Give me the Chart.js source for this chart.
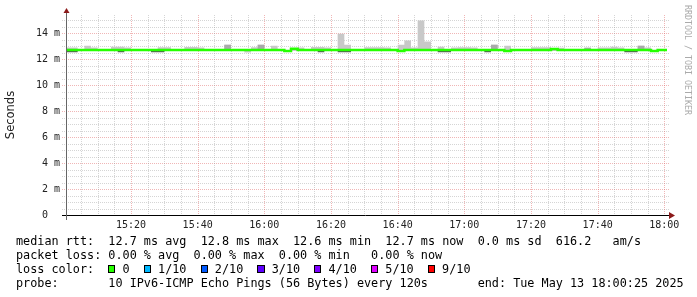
<!DOCTYPE html>
<html>
<head>
<meta charset="utf-8">
<script src="https://cdn.jsdelivr.net/npm/chart.js@4/dist/chart.umd.min.js"></script>
<style>
  body { margin: 0; background: #fff; }
  #wrap { position: relative; width: 697px; height: 297px; overflow: hidden; background: #fff; }
  #chart { position: absolute; left: 0; top: 0; }
  #legend { position: absolute; left: 16px; top: 234px; margin: 0; font: 11.8px/14px 'DejaVu Sans Mono', monospace; color: #000; white-space: pre; }
  .sq { display: inline-block; width: 1ch; height: 8px; box-sizing: border-box; border: 1px solid #000; vertical-align: baseline; }
  #credit { position: absolute; left: 683px; top: 5px; writing-mode: vertical-rl; font: 8.3px 'DejaVu Sans Mono', monospace; color: #aaa; white-space: pre; }
</style>
</head>
<body>
<div id="wrap">
  <canvas id="chart" width="697" height="297"></canvas>
  <div id="credit">RRDTOOL / TOBI OETIKER</div>
  <pre id="legend"></pre>
</div>
<script>
// x values are minutes after 15:00, one step every 120 s
const stepMinutes = 2;
const timeLabels = ['15:20', '15:40', '16:00', '16:20', '16:40', '17:00', '17:20', '17:40', '18:00'];
const yTicks = [0, 2, 4, 6, 8, 10, 12, 14];

// median rtt per step (ms)
const medianRtt = [
  12.70, 12.70, 12.70, 12.70, 12.70, 12.70, 12.70, 12.70, 12.70, 12.70,
  12.70, 12.70, 12.70, 12.70, 12.70, 12.70, 12.70, 12.70, 12.70, 12.70,
  12.70, 12.70, 12.70, 12.70, 12.70, 12.70, 12.70, 12.70, 12.70, 12.70,
  12.70, 12.70, 12.70, 12.63, 12.80, 12.70, 12.70, 12.70, 12.70, 12.70,
  12.70, 12.70, 12.70, 12.70, 12.70, 12.70, 12.70, 12.70, 12.70, 12.70,
  12.62, 12.70, 12.70, 12.70, 12.70, 12.70, 12.70, 12.70, 12.70, 12.70,
  12.70, 12.70, 12.70, 12.70, 12.70, 12.70, 12.62, 12.70, 12.70, 12.70,
  12.70, 12.70, 12.70, 12.78, 12.70, 12.70, 12.70, 12.70, 12.70, 12.70,
  12.70, 12.70, 12.70, 12.70, 12.70, 12.70, 12.70, 12.70, 12.62, 12.70,
  12.70
];

// outer smoke (light grey), top and bottom per step (ms)
const smokeTop = [
  12.89, 12.89, 12.70, 13.03, 12.89, 12.70, 12.70, 12.96, 12.96, 12.89,
  12.70, 12.70, 12.70, 12.70, 12.92, 12.92, 12.70, 12.70, 12.94, 12.94,
  12.89, 12.70, 12.70, 12.70, 13.10, 12.70, 12.70, 12.70, 12.92, 13.10,
  12.70, 13.03, 12.70, 12.70, 12.80, 12.89, 12.70, 12.94, 12.94, 12.89,
  12.70, 13.96, 13.10, 12.70, 12.70, 12.92, 12.92, 12.92, 12.89, 12.70,
  13.10, 13.43, 12.90, 14.97, 13.36, 12.70, 12.96, 12.70, 12.90, 12.92,
  12.92, 12.89, 12.70, 12.70, 13.10, 12.70, 13.03, 12.70, 12.70, 12.70,
  12.92, 12.92, 12.92, 12.78, 12.88, 12.70, 12.70, 12.70, 12.88, 12.70,
  12.90, 12.90, 12.95, 12.90, 12.70, 12.70, 13.03, 12.89, 12.70, 12.70,
  12.70
];
const smokeBottom = [
  12.62, 12.62, 12.62, 12.62, 12.62, 12.62, 12.62, 12.62, 12.62, 12.62,
  12.62, 12.62, 12.62, 12.62, 12.62, 12.62, 12.62, 12.62, 12.62, 12.62,
  12.62, 12.62, 12.62, 12.62, 12.62, 12.62, 12.62, 12.52, 12.62, 12.62,
  12.62, 12.62, 12.62, 12.62, 12.62, 12.62, 12.62, 12.62, 12.62, 12.62,
  12.62, 12.62, 12.62, 12.62, 12.62, 12.62, 12.62, 12.62, 12.62, 12.62,
  12.62, 12.62, 12.62, 12.62, 12.62, 12.62, 12.62, 12.62, 12.62, 12.62,
  12.62, 12.62, 12.62, 12.62, 12.62, 12.62, 12.62, 12.62, 12.62, 12.62,
  12.62, 12.62, 12.62, 12.62, 12.62, 12.62, 12.62, 12.62, 12.62, 12.62,
  12.62, 12.62, 12.62, 12.62, 12.62, 12.62, 12.62, 12.62, 12.62, 12.62,
  12.62
];

// middle smoke (darker grey) above the median, 12.70 = none
const midTop = [
  12.70, 12.70, 12.70, 12.70, 12.70, 12.70, 12.70, 12.70, 12.70, 12.70,
  12.70, 12.70, 12.70, 12.70, 12.70, 12.70, 12.70, 12.70, 12.70, 12.70,
  12.70, 12.70, 12.70, 12.70, 13.10, 12.70, 12.70, 12.70, 12.70, 13.10,
  12.70, 12.70, 12.70, 12.70, 12.70, 12.70, 12.70, 12.70, 12.70, 12.70,
  12.70, 12.70, 12.70, 12.70, 12.70, 12.70, 12.70, 12.70, 12.70, 12.70,
  12.70, 12.70, 12.70, 12.70, 12.70, 12.70, 12.70, 12.70, 12.70, 12.70,
  12.70, 12.70, 12.70, 12.70, 13.10, 12.70, 12.70, 12.70, 12.70, 12.70,
  12.70, 12.70, 12.70, 12.70, 12.70, 12.70, 12.70, 12.70, 12.88, 12.70,
  12.70, 12.70, 12.70, 12.70, 12.70, 12.70, 13.03, 12.70, 12.70, 12.70,
  12.70
];

// core smoke (dark) just under the median, 12.70 = none
const coreBottom = [
  12.53, 12.53, 12.70, 12.70, 12.70, 12.70, 12.70, 12.70, 12.53, 12.70,
  12.70, 12.70, 12.70, 12.53, 12.53, 12.70, 12.70, 12.70, 12.70, 12.70,
  12.70, 12.70, 12.70, 12.70, 12.70, 12.70, 12.70, 12.70, 12.70, 12.70,
  12.70, 12.70, 12.70, 12.70, 12.70, 12.70, 12.70, 12.70, 12.53, 12.70,
  12.70, 12.53, 12.53, 12.70, 12.70, 12.70, 12.70, 12.70, 12.70, 12.70,
  12.70, 12.70, 12.70, 12.70, 12.70, 12.70, 12.53, 12.53, 12.70, 12.70,
  12.70, 12.70, 12.70, 12.53, 12.70, 12.70, 12.70, 12.70, 12.70, 12.70,
  12.70, 12.70, 12.70, 12.70, 12.70, 12.70, 12.70, 12.70, 12.70, 12.70,
  12.70, 12.70, 12.70, 12.70, 12.53, 12.53, 12.70, 12.70, 12.70, 12.70,
  12.70
];
const innerEdge = 12.70;

const lossLabels = ['0', '1/10', '2/10', '3/10', '4/10', '5/10', '9/10'];
const lossColors = ['#26ff00', '#00b8ff', '#0059ff', '#5e00ff', '#7e00ff', '#dd00ff', '#ff0000'];

// legend text under the graph
const legendLines = [
  'median rtt:  12.7 ms avg  12.8 ms max  12.6 ms min  12.7 ms now  0.0 ms sd  616.2   am/s',
  'packet loss: 0.00 % avg  0.00 % max  0.00 % min   0.00 % now',
  null,
  'probe:       10 IPv6-ICMP Echo Pings (56 Bytes) every 120s       end: Tue May 13 18:00:25 2025'
];
const legendEl = document.getElementById('legend');
legendEl.innerHTML = legendLines.map(line => {
  if (line !== null) return line;
  let s = 'loss color:  ';
  lossLabels.forEach((lab, i) => {
    s += `<span class="sq" style="background:${lossColors[i]}"></span> ${lab}` + (i < lossLabels.length - 1 ? '  ' : '');
  });
  return s;
}).join('\n');

// step series -> points, with an extra point closing the last step
function toPoints(arr) {
  const pts = arr.map((v, k) => ({ x: k * stepMinutes, y: v }));
  pts.push({ x: arr.length * stepMinutes, y: arr[arr.length - 1] });
  return pts;
}
function stepLine(points, extra) {
  return Object.assign({
    data: points, stepped: 'before', pointRadius: 0, borderWidth: 0,
    borderColor: 'transparent', fill: false
  }, extra);
}
const flat = arr => toPoints(arr).map(p => ({ x: p.x, y: innerEdge }));

// dotted rrd style grid under the data
const rrdGrid = {
  id: 'rrdGrid',
  beforeDatasetsDraw(chart) {
    const { ctx, chartArea: a, scales: { x, y } } = chart;
    ctx.save();
    ctx.lineWidth = 1;
    ctx.setLineDash([1, 1]);
    const minor = 'rgba(150,150,150,0.4)';
    const major = 'rgba(225,110,110,0.5)';
    for (let i = 1; i * 0.5 <= y.max; i++) {
      const v = i * 0.5;
      const py = Math.round(y.getPixelForValue(v)) + 0.5;
      ctx.strokeStyle = (i % 4 === 0) ? major : minor;
      ctx.beginPath();
      ctx.moveTo(a.left - 5, py);
      ctx.lineTo(a.right + 2, py);
      ctx.stroke();
    }
    for (let m = 5; m <= x.max; m += 5) {
      const px = Math.round(x.getPixelForValue(m)) + 0.5;
      ctx.strokeStyle = (m % 20 === 0) ? major : minor;
      ctx.beginPath();
      ctx.moveTo(px, a.top);
      ctx.lineTo(px, a.bottom);
      ctx.stroke();
    }
    ctx.restore();
  },
  afterDatasetsDraw(chart) {
    const { ctx, chartArea: a } = chart;
    ctx.save();
    ctx.setLineDash([]);
    ctx.lineWidth = 1;
    ctx.strokeStyle = '#000';
    ctx.beginPath();
    ctx.moveTo(a.left - 5, a.bottom + 0.5);
    ctx.lineTo(a.right + 2, a.bottom + 0.5);
    ctx.stroke();
    ctx.strokeStyle = '#666';
    ctx.beginPath();
    ctx.moveTo(a.left - 0.5, a.top - 3);
    ctx.lineTo(a.left - 0.5, a.bottom + 5);
    ctx.stroke();
    // arrows
    ctx.fillStyle = '#8b1a1a';
    ctx.beginPath();
    ctx.moveTo(a.right + 2, a.bottom - 3);
    ctx.lineTo(a.right + 2, a.bottom + 4);
    ctx.lineTo(a.right + 8, a.bottom + 0.5);
    ctx.closePath();
    ctx.fill();
    ctx.beginPath();
    ctx.moveTo(a.left - 3.5, a.top - 2);
    ctx.lineTo(a.left + 2.5, a.top - 2);
    ctx.lineTo(a.left - 0.5, a.top - 7);
    ctx.closePath();
    ctx.fill();
    ctx.restore();
  }
};

const tickFont = { family: 'DejaVu Sans Mono', size: 10 };

new Chart(document.getElementById('chart'), {
  type: 'line',
  data: {
    datasets: [
      stepLine(toPoints(medianRtt), { borderColor: '#26ff00', borderWidth: 2.5, borderCapStyle: 'butt', borderJoinStyle: 'miter' }),
      stepLine(flat(coreBottom), { fill: '+1', backgroundColor: '#555555' }),
      stepLine(toPoints(coreBottom)),
      stepLine(toPoints(midTop), { fill: '+1', backgroundColor: '#aaaaaa' }),
      stepLine(flat(midTop)),
      stepLine(toPoints(smokeTop), { fill: '+1', backgroundColor: '#c8c8c8' }),
      stepLine(toPoints(smokeBottom))
    ]
  },
  options: {
    responsive: false,
    animation: false,
    layout: { padding: { top: 15, right: 30, bottom: 0, left: 0 } },
    plugins: { legend: { display: false }, tooltip: { enabled: false } },
    scales: {
      x: {
        type: 'linear',
        min: 0.8,
        max: 180.8,
        grid: { display: false, drawTicks: false },
        border: { display: false },
        afterBuildTicks: scale => { scale.ticks = timeLabels.map((t, i) => ({ value: 20 * (i + 1) })); },
        afterFit: scale => { scale.height = 82; },
        ticks: {
          autoSkip: false, maxRotation: 0, padding: 4, color: '#222', font: tickFont,
          callback: (value, index) => timeLabels[index]
        }
      },
      y: {
        min: 0,
        max: 15.4,
        grid: { display: false, drawTicks: false },
        border: { display: false },
        afterBuildTicks: scale => { scale.ticks = yTicks.map(v => ({ value: v })); },
        afterFit: scale => { scale.width = 67; },
        ticks: {
          padding: 7, color: '#222', font: tickFont,
          callback: v => (v === 0 ? '0  ' : v + ' m')
        },
        title: {
          display: true, text: 'Seconds', color: '#222',
          font: { family: 'DejaVu Sans', size: 11.5 },
          padding: { top: 4, bottom: 0 }
        }
      }
    }
  },
  plugins: [rrdGrid]
});
</script>
</body>
</html>
